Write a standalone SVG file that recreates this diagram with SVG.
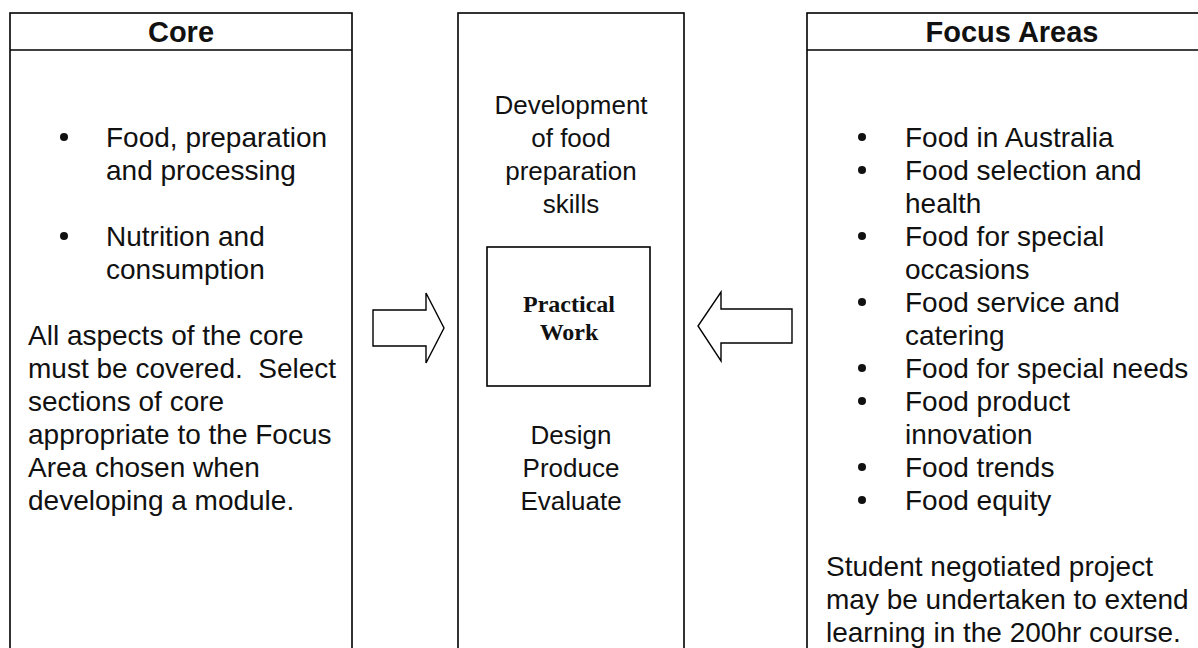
<svg xmlns="http://www.w3.org/2000/svg" width="1198" height="648" viewBox="0 0 1198 648">
<style>
.box{fill:#fff;stroke:#000;stroke-width:1.6}
.t{font-family:"Liberation Sans",Arial,sans-serif;font-size:28px;fill:#111}
.m{font-family:"Liberation Sans",Arial,sans-serif;font-size:26px;fill:#111;text-anchor:middle}
.h{font-family:"Liberation Sans",Arial,sans-serif;font-size:29px;font-weight:bold;fill:#111;text-anchor:middle}
.pw{font-family:"Liberation Serif","Times New Roman",serif;font-size:24px;font-weight:bold;fill:#111;text-anchor:middle}
.b{fill:#111}
.arr{fill:#fff;stroke:#000;stroke-width:1.4;stroke-linejoin:miter}
</style>
<rect width="1198" height="648" fill="#fff"/>
<g id="core">
<rect class="box" x="10" y="13" width="342" height="660"/>
<line x1="10" y1="50" x2="352" y2="50" stroke="#000" stroke-width="1.6"/>
<text class="h" x="181" y="42">Core</text>
<circle class="b" cx="64" cy="137" r="4"/>
<text class="t" x="106" y="147">Food, preparation</text>
<text class="t" x="106" y="180">and processing</text>
<circle class="b" cx="64" cy="236" r="4"/>
<text class="t" x="106" y="246">Nutrition and</text>
<text class="t" x="106" y="279">consumption</text>
<text class="t" x="28" y="345">All aspects of the core</text>
<text class="t" x="28" y="378" xml:space="preserve">must be covered.  Select</text>
<text class="t" x="28" y="411">sections of core</text>
<text class="t" x="28" y="444">appropriate to the Focus</text>
<text class="t" x="28" y="477">Area chosen when</text>
<text class="t" x="28" y="510">developing a module.</text>
</g>
<g id="practical">
<rect class="box" x="458" y="13" width="226" height="660"/>
<text class="m" x="571" y="114">Development</text>
<text class="m" x="571" y="147">of food</text>
<text class="m" x="571" y="180">preparation</text>
<text class="m" x="571" y="213">skills</text>
<g id="practical-work">
<rect class="box" x="487" y="247" width="163" height="139"/>
<text class="pw" x="569" y="312">Practical</text>
<text class="pw" x="569" y="340">Work</text>
</g>
<text class="m" x="571" y="444">Design</text>
<text class="m" x="571" y="477">Produce</text>
<text class="m" x="571" y="510">Evaluate</text>
</g>
<g id="focus">
<rect class="box" x="807" y="13" width="410" height="660"/>
<line x1="807" y1="50" x2="1217" y2="50" stroke="#000" stroke-width="1.6"/>
<text class="h" x="1012" y="42">Focus Areas</text>
<circle class="b" cx="862" cy="137" r="4"/>
<text class="t" x="905" y="147">Food in Australia</text>
<circle class="b" cx="862" cy="170" r="4"/>
<text class="t" x="905" y="180">Food selection and</text>
<text class="t" x="905" y="213">health</text>
<circle class="b" cx="862" cy="236" r="4"/>
<text class="t" x="905" y="246">Food for special</text>
<text class="t" x="905" y="279">occasions</text>
<circle class="b" cx="862" cy="302" r="4"/>
<text class="t" x="905" y="312">Food service and</text>
<text class="t" x="905" y="345">catering</text>
<circle class="b" cx="862" cy="368" r="4"/>
<text class="t" x="905" y="378">Food for special needs</text>
<circle class="b" cx="862" cy="401" r="4"/>
<text class="t" x="905" y="411">Food product</text>
<text class="t" x="905" y="444">innovation</text>
<circle class="b" cx="862" cy="467" r="4"/>
<text class="t" x="905" y="477">Food trends</text>
<circle class="b" cx="862" cy="500" r="4"/>
<text class="t" x="905" y="510">Food equity</text>
<text class="t" x="826" y="576">Student negotiated project</text>
<text class="t" x="826" y="609">may be undertaken to extend</text>
<text class="t" x="826" y="642">learning in the 200hr course.</text>
</g>
<g id="connectors">
<polygon class="arr" points="373,310 426,310 426,293 444,328 426,363 426,346 373,346"/>
<polygon class="arr" points="792,309 721,309 721,292 698,326 721,361 721,343 792,343"/>
</g>
</svg>
